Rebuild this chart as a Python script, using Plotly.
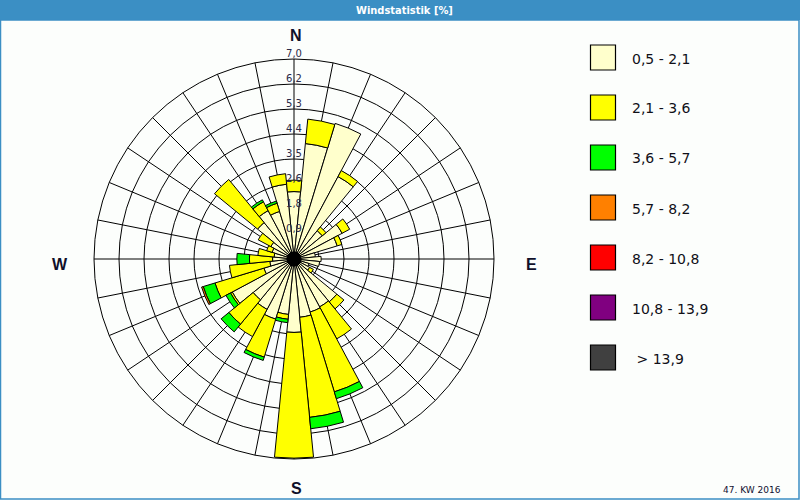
import plotly.graph_objects as go

# ---------------- data ----------------
directions = [0, 11.25, 22.5, 33.75, 45, 56.25, 67.5, 78.75,
              90, 101.25, 112.5, 123.75, 135, 146.25, 157.5, 168.75,
              180, 191.25, 202.5, 213.75, 225, 236.25, 247.5, 258.75,
              270, 281.25, 292.5, 303.75, 315, 326.25, 337.5, 348.75]

s_05_21 = [2.36, 4.06, 4.96, 3.27, 1.28, 1.91, 1.58, 0.75,
           0.95, 0.90, 0.55, 0.62, 1.94, 1.90, 1.94, 2.05,
           2.57, 1.95, 2.20, 2.00, 1.85, 2.45, 1.10, 0.85,
           0.75, 0.70, 0.80, 0.92, 1.65, 1.92, 1.74, 2.63]
s_21_36 = [0.40, 0.86, 0.00, 0.24, 0.17, 0.30, 0.17, 0.00,
           0.00, 0.00, 0.00, 0.15, 0.32, 1.27, 2.92, 3.52,
           4.40, 0.17, 1.39, 1.08, 1.10, 0.07, 1.79, 1.42,
           0.81, 0.57, 0.20, 0.50, 1.95, 0.35, 0.30, 0.37]
s_36_57 = [0, 0, 0, 0, 0, 0, 0, 0,
           0, 0, 0, 0, 0, 0, 0.25, 0.40,
           0, 0.12, 0.12, 0, 0.35, 0.18, 0.43, 0,
           0.44, 0, 0, 0, 0, 0.08, 0.08, 0]
s_57_82 = [0, 0, 0, 0, 0, 0, 0, 0,
           0, 0, 0, 0, 0, 0, 0, 0,
           0, 0, 0, 0, 0, 0, 0.06, 0,
           0, 0, 0, 0, 0, 0, 0, 0]
s_82_108 = [0] * 32
s_108_139 = [0] * 32
s_gt_139 = [0] * 32

class_labels = ["0,5 - 2,1", "2,1 - 3,6", "3,6 - 5,7", "5,7 - 8,2",
                "8,2 - 10,8", "10,8 - 13,9", " > 13,9"]
class_colors = ["#FFFFCC", "#FFFF00", "#00FF00", "#FF8000",
                "#FF0000", "#800080", "#404040"]

ring_values = [0.875, 1.75, 2.625, 3.5, 4.375, 5.25, 6.125, 7.0]
ring_labels = ["0,9", "1,8", "2,6", "3,5", "4,4", "5,3", "6,2", "7,0"]

compass = ["N", "E", "S", "W"]
title_text = "Windstatistik [%]"
footer_text = "47. KW 2016"

series = [s_05_21, s_21_36, s_36_57, s_57_82, s_82_108, s_108_139, s_gt_139]

# ---------------- figure ----------------
W, H = 800, 500
cx, cy, R = 294, 259, 200  # pixel center/radius of the rose

fig = go.Figure()
for vals, name, col in zip(series, class_labels, class_colors):
    fig.add_trace(go.Barpolar(
        r=vals, theta=directions, width=[11.25] * len(directions),
        name=name, marker=dict(color=col, line=dict(color="black", width=1)),
        showlegend=False, hoverinfo="skip"))

# ring value labels along the N axis
fig.add_trace(go.Scatterpolar(
    r=ring_values, theta=[0] * len(ring_values), mode="text",
    text=ring_labels, textposition="top center",
    textfont=dict(family="DejaVu Sans", size=10, color="#2a2a48"),
    showlegend=False, hoverinfo="skip"))

# hub
fig.add_trace(go.Scatterpolar(
    r=[0], theta=[0], mode="markers",
    marker=dict(color="black", size=15, line=dict(width=0)),
    showlegend=False, hoverinfo="skip"))

x0 = (cx - R) / W
x1 = (cx + R) / W
y0 = (H - cy - R) / H
y1 = (H - cy + R) / H

fig.update_layout(
    width=W, height=H,
    margin=dict(l=0, r=0, t=0, b=0),
    paper_bgcolor="#FCFEFC",
    plot_bgcolor="#FCFEFC",
    polar=dict(
        domain=dict(x=[x0, x1], y=[y0, y1]),
        bgcolor="#FCFEFC",
        bargap=0,
        barmode="stack",
        angularaxis=dict(direction="clockwise", rotation=90,
                         tickmode="array", tickvals=directions,
                         showticklabels=False, ticks="",
                         gridcolor="black", gridwidth=1,
                         linecolor="black", linewidth=1, showline=True),
        radialaxis=dict(range=[0, 7.0], tickmode="array", tickvals=ring_values,
                        showticklabels=False, ticks="", showline=False,
                        gridcolor="black", gridwidth=1),
    ),
)

shapes = []
annotations = []

def px(x):
    return x / W

def py(y):
    return 1 - y / H

# title bar and frame
blue = "#3B8FC4"
shapes.append(dict(type="rect", xref="paper", yref="paper",
                   x0=0, x1=1, y0=py(20), y1=1,
                   fillcolor=blue, line=dict(width=0), layer="above"))
shapes.append(dict(type="rect", xref="paper", yref="paper",
                   x0=px(0.5), x1=px(799), y0=py(499), y1=py(20),
                   fillcolor="rgba(0,0,0,0)", line=dict(color=blue, width=1.5),
                   layer="above"))
annotations.append(dict(text="<b>" + title_text + "</b>", xref="paper", yref="paper",
                        x=px(404), y=py(10), showarrow=False,
                        xanchor="center", yanchor="middle",
                        font=dict(family="DejaVu Sans Condensed, DejaVu Sans", size=11, color="white")))

# compass labels
compass_pos = {"N": (296, 36), "E": (531, 264), "S": (296, 488), "W": (60, 264)}
for c in compass:
    xx, yy = compass_pos[c]
    annotations.append(dict(text="<b>" + c + "</b>", xref="paper", yref="paper",
                            x=px(xx), y=py(yy), showarrow=False,
                            xanchor="center", yanchor="middle",
                            font=dict(family="Liberation Sans, Arial", size=16, color="#10102a")))

# legend
for i, (lab, col) in enumerate(zip(class_labels, class_colors)):
    top = 45 + 50 * i
    shapes.append(dict(type="rect", xref="paper", yref="paper",
                       x0=px(590.5), x1=px(615.5), y0=py(top + 25), y1=py(top),
                       fillcolor=col, line=dict(color="black", width=1.2)))
    annotations.append(dict(text=lab, xref="paper", yref="paper",
                            x=px(630), y=py(top + 13.5), showarrow=False,
                            xanchor="left", yanchor="middle",
                            font=dict(family="DejaVu Sans", size=14, color="#101018")))

annotations.append(dict(text=footer_text, xref="paper", yref="paper",
                        x=px(783), y=py(490), showarrow=False,
                        xanchor="right", yanchor="middle",
                        font=dict(family="DejaVu Sans", size=9, color="#101030")))

fig.update_layout(shapes=shapes, annotations=annotations)

fig.write_html("out.html")
